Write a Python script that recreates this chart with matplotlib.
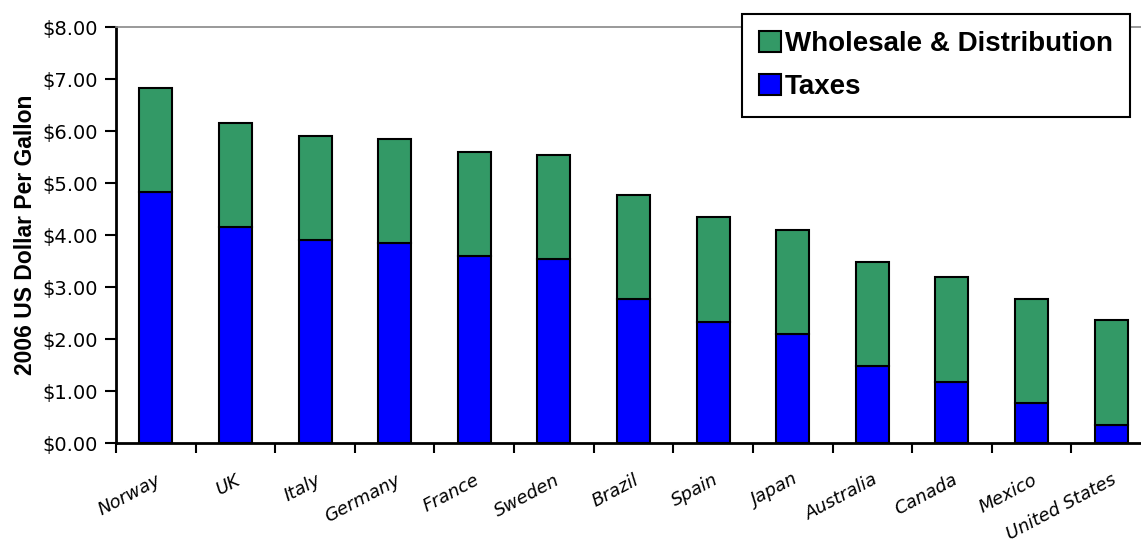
import matplotlib.pyplot as plt
import numpy as np

countries = ['Norway', 'UK', 'Italy', 'Germany', 'France', 'Sweden', 'Brazil',
             'Spain', 'Japan', 'Australia', 'Canada', 'Mexico', 'United States']
taxes = [4.82, 4.15, 3.90, 3.85, 3.59, 3.54, 2.77, 2.32, 2.10, 1.49, 1.18, 0.77, 0.35]
wholesale = [2.00, 2.00, 2.00, 2.00, 2.00, 2.00, 2.00, 2.03, 2.00, 2.00, 2.01, 2.00, 2.01]
yticks = [0, 1, 2, 3, 4, 5, 6, 7, 8]

plt.rcParams['font.family'] = ['Liberation Sans', 'DejaVu Sans']

fig = plt.figure(figsize=(11.41, 5.44), dpi=100)
# plot area runs a little past the right edge, like the original
ax = fig.add_axes([116 / 1141, 1 - 443 / 544, 1035 / 1141, 416 / 544])

x = np.arange(len(countries))
ax.bar(x, taxes, width=0.415, color='#0000FF', edgecolor='black', linewidth=1.5,
       label='Taxes', zorder=3)
ax.bar(x, wholesale, width=0.415, bottom=taxes, color='#339966', edgecolor='black',
       linewidth=1.5, label='Wholesale & Distribution', zorder=3)

ax.set_xlim(-0.5, len(countries) - 0.5)
ax.set_ylim(0, 8)
ax.set_yticks(yticks)
ax.set_yticklabels(['$%.2f' % v for v in yticks], fontsize=14, family='DejaVu Sans')
ax.set_xticks(x)
ax.set_xticklabels(countries, rotation=28, ha='right', rotation_mode='anchor',
                   fontsize=13, style='italic', family='DejaVu Sans')
# tick marks sit between the categories
ax.set_xticks(np.arange(-0.5, len(countries), 1), minor=True)
ax.tick_params(axis='x', which='major', length=0, pad=20)
ax.tick_params(axis='x', which='minor', length=7, width=1.5)
ax.tick_params(axis='y', length=8, width=1.5, pad=5)

for s in ['left', 'bottom']:
    ax.spines[s].set_linewidth(2)
ax.spines['right'].set_visible(False)
ax.spines['top'].set_color('#888888')
ax.spines['top'].set_linewidth(1.2)

ax.set_ylabel('2006 US Dollar Per Gallon', fontsize=16.5, fontweight='bold', labelpad=4)

handles, labels = ax.get_legend_handles_labels()
leg = fig.legend(handles[::-1], labels[::-1], loc='upper left',
                 bbox_to_anchor=(742 / 1141, 1 - 14 / 544),
                 prop={'size': 20, 'weight': 'bold'}, fancybox=False,
                 edgecolor='black', framealpha=1, handlelength=0.8,
                 handleheight=0.8, handletextpad=0.15, borderpad=0.6,
                 labelspacing=0.62, borderaxespad=0)
leg.get_frame().set_linewidth(1.5)

plt.savefig('out.png', dpi=100)
